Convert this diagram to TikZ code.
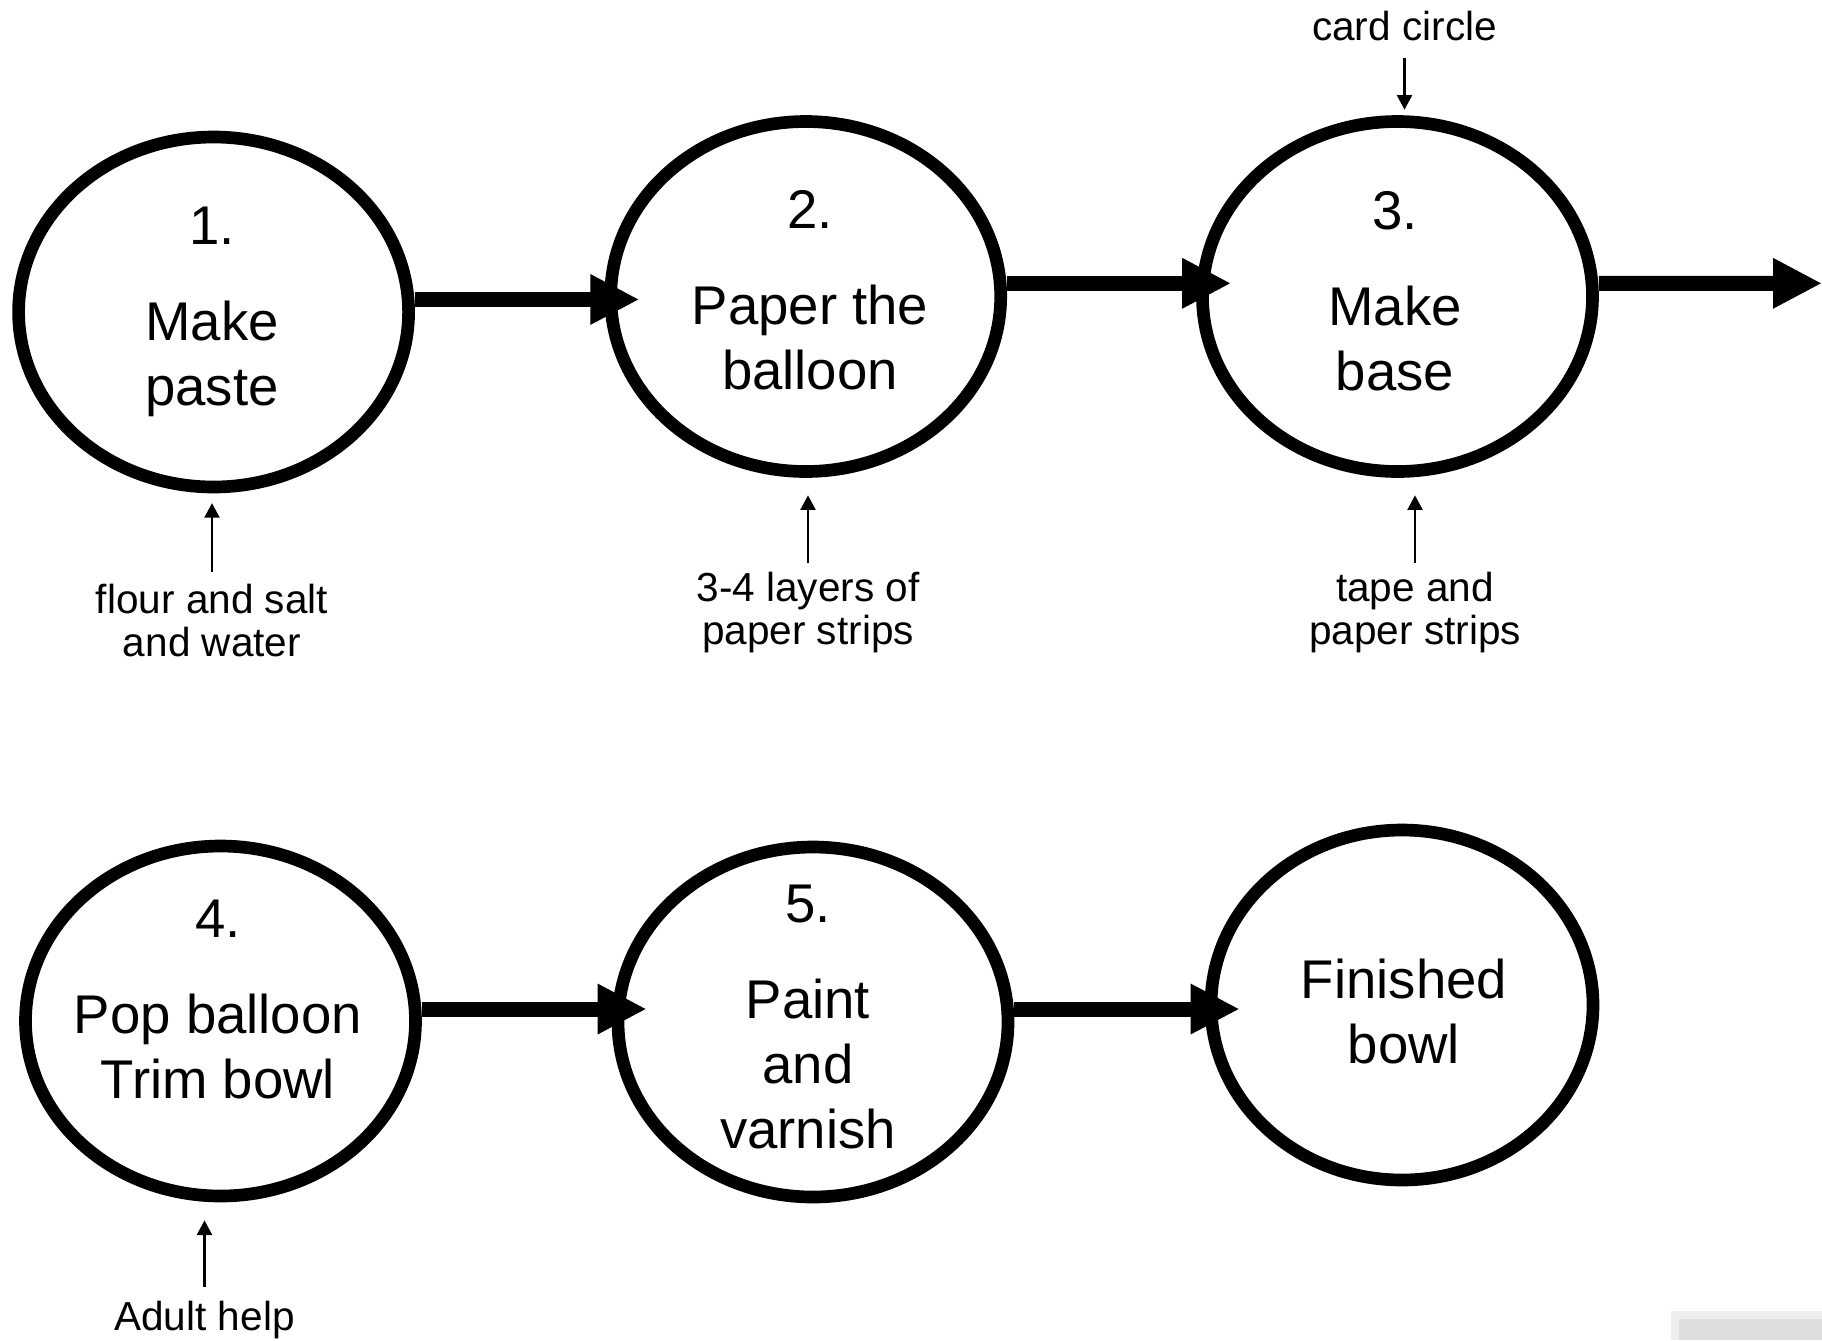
\documentclass[tikz,border=0pt]{standalone}
\usepackage{fontspec}
\setmainfont{Liberation Sans}
\usetikzlibrary{shapes.geometric,arrows.meta}

\definecolor{panelgrey}{RGB}{238,238,238}
\definecolor{paneldark}{RGB}{222,222,222}

\tikzset{every picture/.style={line width=0.75pt}}
\tikzset{
	stepnode/.style={draw, ellipse, line width=9.5pt, minimum width=292.5pt, minimum height=262.5pt, inner sep=0pt},
	steptext/.style={align=center, inner sep=0pt, outer sep=0pt, font=\fontsize{40.9pt}{48.75pt}\selectfont},
	feedtext/.style={align=center, inner sep=0pt, outer sep=0pt, font=\fontsize{30.4pt}{32.25pt}\selectfont},
	flow/.style={line width=11.25pt, -{Triangle[length=36.75pt,width=35.25pt]}, shorten >=-26.25pt},
	feed/.style={line width=1.8pt, -{Triangle[length=11pt,width=11.25pt]}}}

\begin{document}
\begin{tikzpicture}[x=0.75pt,y=0.75pt,yscale=-1,xscale=1]
	\useasboundingbox (0,0) rectangle (1822,1340);

	%Shape: Ellipse
	\node[stepnode] (s1) at (213.6,312) {};
	%Shape: Ellipse
	\node[stepnode] (s2) at (805.7,296.5) {};
	%Shape: Ellipse
	\node[stepnode] (s3) at (1397.5,296.5) {};
	%Shape: Ellipse
	\node[stepnode] (s4) at (220.5,1021) {};
	%Shape: Ellipse
	\node[stepnode] (s5) at (813,1022) {};
	%Shape: Ellipse
	\node[stepnode, minimum width=286.5pt] (s6) at (1402,1005) {};
	\coordinate (exit) at (1822,283.3);

	% Text Node
	\node[steptext] (t1) at (212,311.7) {1.\\[23.25pt]Make\\paste};
	% Text Node
	\node[steptext] (t2) at (810,290.7) {2.\\[23.25pt]Paper the\\balloon};
	% Text Node
	\node[steptext] (t3) at (1395,291.5) {3.\\[23.25pt]Make\\base};
	% Text Node
	\node[steptext] (t4) at (218,999) {4.\\[23.25pt]Pop balloon\\Trim bowl};
	% Text Node
	\node[steptext] (t5) at (808,1017) {5.\\[23.25pt]Paint\\and\\varnish};
	% Text Node
	\node[steptext] (t6) at (1404,1011) {Finished\\bowl};

	% Text Node
	\node[feedtext] (l0) at (1404.5,26) {card circle};
	% Text Node
	\node[feedtext] (l1) at (212,620.7) {flour and salt\\and water};
	% Text Node
	\node[feedtext] (l2) at (808,612.7) {3-4 layers of\\paper strips};
	% Text Node
	\node[feedtext] (l3) at (1415,612.7) {tape and\\paper strips};
	% Text Node
	\node[feedtext] (l4) at (204.5,1319.5) {Adult help};

	%Straight Lines
	\draw[flow] ([yshift=-9.4pt]s1.east) -- ([yshift=-9.4pt]s1.east -| s2.west);
	%Straight Lines
	\draw[flow] ([yshift=-9.9pt]s2.east) -- ([yshift=-9.9pt]s2.east -| s3.west);
	%Straight Lines
	\draw[flow, shorten >=0pt] ([yshift=-9.9pt]s3.east) -- (exit);
	%Straight Lines
	\draw[flow] ([yshift=-9pt]s4.east) -- ([yshift=-9pt]s4.east -| s5.west);
	%Straight Lines
	\draw[flow] ([yshift=-9.75pt]s5.east) -- ([yshift=-9.75pt]s5.east -| s6.west);

	%Straight Lines
	\draw[feed, shorten <=13.1pt, shorten >=4.1pt] (l0.south) -- (l0.south |- s3.north);
	%Straight Lines
	\draw[feed, shorten <=9.6pt, shorten >=7.3pt] (l1.north) -- (l1.north |- s1.south);
	%Straight Lines
	\draw[feed, shorten <=6.9pt, shorten >=13.1pt] (l2.north) -- (l2.north |- s2.south);
	%Straight Lines
	\draw[feed, shorten <=6.9pt, shorten >=13.1pt] (l3.north) -- (l3.north |- s3.south);
	%Straight Lines
	\draw[feed, shorten <=10.1pt, shorten >=13.5pt] (l4.north) -- (l4.north |- s4.south);

	%Shape: Rectangle
	\fill[panelgrey] (1671,1311) rectangle (1822,1340);
	\fill[paneldark] (1679,1319) rectangle (1822,1340);

\end{tikzpicture}
\end{document}
